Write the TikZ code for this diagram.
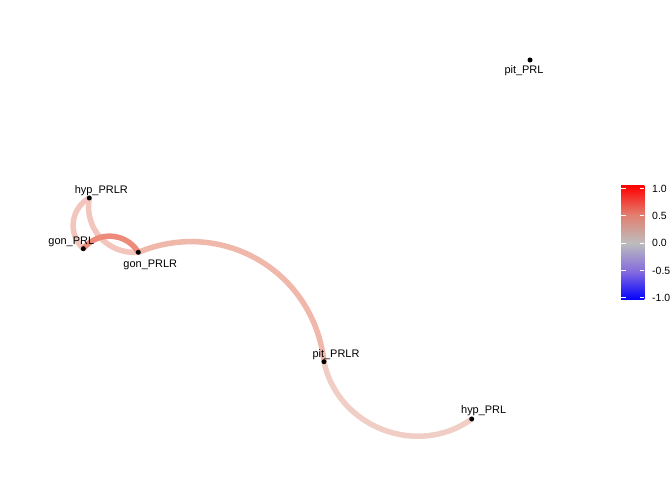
\documentclass[tikz,border=0pt]{standalone}
\usepackage{fontspec}
\setmainfont{Liberation Sans}
\usetikzlibrary{positioning}
\pgfdeclarelayer{background}
\pgfsetlayers{background,main}
\definecolor{gonlink}{RGB}{237,138,122}
\definecolor{pitlink}{RGB}{240,184,170}
\definecolor{hyplink}{RGB}{242,198,188}
\definecolor{lowlink}{RGB}{241,206,197}
\pgfdeclareverticalshading{corbar}{100bp}{rgb(0bp)=(0,0,1); rgb(25bp)=(0,0,1); rgb(37.5bp)=(0.52,0.42,0.87); rgb(50bp)=(0.74,0.74,0.74); rgb(62.5bp)=(0.89,0.49,0.43); rgb(75bp)=(1,0,0); rgb(100bp)=(1,0,0)}

\begin{document}
\begin{tikzpicture}[x=1bp,y=1bp,dot/.style={circle,fill=black,inner sep=0pt,minimum size=5bp},lbl/.style={anchor=base,inner sep=0pt,font=\fontsize{11}{13}\selectfont},tick/.style={anchor=base west,inner sep=0pt,font=\fontsize{10.5}{12}\selectfont},corr/.style={line width=5.5bp,looseness=1.08}]
\useasboundingbox (0,0) rectangle (672,480);
									\foreach \n/\x/\y/\dx/\dy/\t in {hypPRLR/89.3/282/12/4/hyp\_PRLR,gonPRL/83.3/231.3/-12/4/gon\_PRL,gonPRLR/138.3/227.7/12/-15/gon\_PRLR,pitPRLR/324/118.3/12/4/pit\_PRLR,hypPRL/471.7/61/12/5/hyp\_PRL,pitPRL/530/420/-6/-14/pit\_PRL}
           								{\node[dot] (\n) at (\x,\y) {};
           								\node[lbl] (\n L) at ([shift={(\dx,\dy)}]\n.center) {\t};}

           							\begin{pgfonlayer}{background}
           							\path [corr]
           								(gonPRLR.center) edge[pitlink,bend left=53] (pitPRLR.center)
           								(pitPRLR.center) edge[lowlink,bend right=57] (hypPRL.center)
           								(hypPRLR.center) edge[hyplink,bend right=54] (gonPRL.center)
           								(hypPRLR.center) edge[hyplink,bend right=52] (gonPRLR.center)
           								(gonPRL.center) edge[gonlink,bend left=55] (gonPRLR.center);
           							\end{pgfonlayer}

           							\shade[shading=corbar] (621,180) rectangle (644.3,294.3);
           							\foreach \v [count=\k] in {1.0,0.5,0.0,-0.5,-1.0}
           								{\draw[white,line width=0.6bp] (621,318.75-\k*27.25) -- +(4.6,0) (644.3,318.75-\k*27.25) -- +(-4.6,0);
           								\node[tick] (T\k) at (652,314.75-\k*27.25) {\v};}
           						\end{tikzpicture}
\end{document}
